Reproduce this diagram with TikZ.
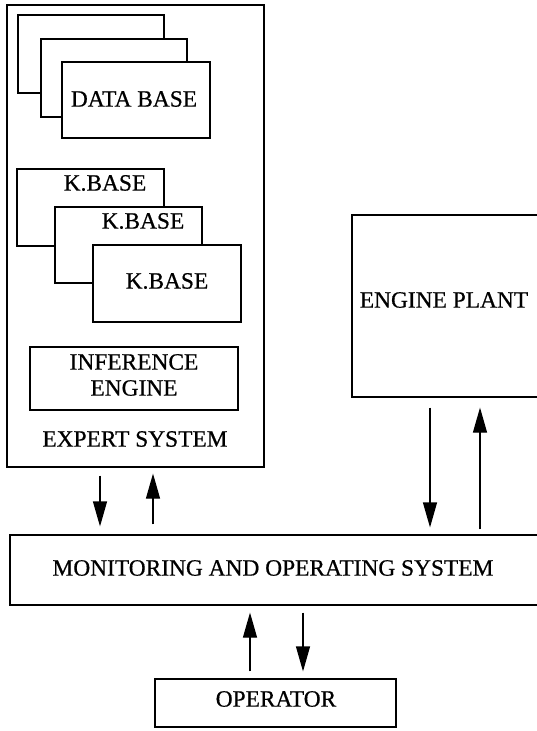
\documentclass[tikz,border=0pt]{standalone}
\usepackage{fontspec}
\setmainfont{Liberation Serif}[FakeBold=0.6]
\usetikzlibrary{arrows.meta}
\begin{document}
\begin{tikzpicture}[x=1pt,y=-1pt,
  box/.style={draw, line width=1.2pt, fill=white, inner sep=0pt, anchor=center},
  lbl/.style={font=\fontsize{23.4}{26}\selectfont, inner sep=0pt, align=center},
  arr/.style={line width=1.2pt, -{Triangle[length=25pt,width=14pt]}}]
\useasboundingbox (0,0) rectangle (537,731);
\clip (0,0) rectangle (537,731);

% expert system frame
\node[box, minimum width=257pt, minimum height=462pt] (exp) at (135.5,236) {};

% stacked data bases
\node[box, minimum width=146pt, minimum height=78pt] (db1) at (91,54) {};
\node[box, minimum width=146pt, minimum height=78pt] (db2) at (114,78) {};
\node[box, minimum width=148pt, minimum height=76pt] (db3) at (136,100) {};
\node[lbl] (dbt) at (134,99) {DATA BASE};

% stacked knowledge bases
\node[box, minimum width=147pt, minimum height=77pt] (kb1) at (90.5,207.5) {};
\node[lbl] (kbt1) at (105,183) {K.BASE};
\node[box, minimum width=147pt, minimum height=76pt] (kb2) at (128.5,245) {};
\node[lbl] (kbt2) at (143,221) {K.BASE};
\node[box, minimum width=148pt, minimum height=77pt] (kb3) at (167,283.5) {};
\node[lbl] (kbt3) at (167,281) {K.BASE};

% inference engine
\node[box, minimum width=208pt, minimum height=63pt] (inf) at (134,378.5) {};
\node[lbl] (inft) at (134,375) {INFERENCE\\ENGINE};

\node[lbl] (expt) at (135,439) {EXPERT SYSTEM};

% engine plant
\node[box, minimum width=208pt, minimum height=182pt] (eng) at (456,306) {};
\node[lbl] (engt) at (444,300) {ENGINE PLANT};

% monitoring and operating system
\node[box, minimum width=550pt, minimum height=70pt] (mon) at (285,570) {};
\node[lbl] (mont) at (273,568) {MONITORING AND OPERATING SYSTEM};

% operator
\node[box, minimum width=241pt, minimum height=48pt] (op) at (275.5,703) {};
\node[lbl] (opt) at (276,699) {OPERATOR};

% arrow columns
\coordinate (xa) at (100,0);
\coordinate (xb) at (153,0);
\coordinate (xc) at (430,0);
\coordinate (xd) at (480,0);
\coordinate (xe) at (250,0);
\coordinate (xf) at (303,0);

\draw[arr, shorten <=8pt, shorten >=8pt] (exp.south -| xa) -- (mon.north -| xa);
\draw[arr, shorten <=10pt, shorten >=6pt] (mon.north -| xb) -- (exp.south -| xb);
\draw[arr, shorten <=10pt, shorten >=7pt] (eng.south -| xc) -- (mon.north -| xc);
\draw[arr, shorten <=5pt, shorten >=10pt] (mon.north -| xd) -- (eng.south -| xd);
\draw[arr, shorten <=7pt, shorten >=7pt] (op.north -| xe) -- (mon.south -| xe);
\draw[arr, shorten <=7pt, shorten >=7pt] (mon.south -| xf) -- (op.north -| xf);
\end{tikzpicture}
\end{document}
